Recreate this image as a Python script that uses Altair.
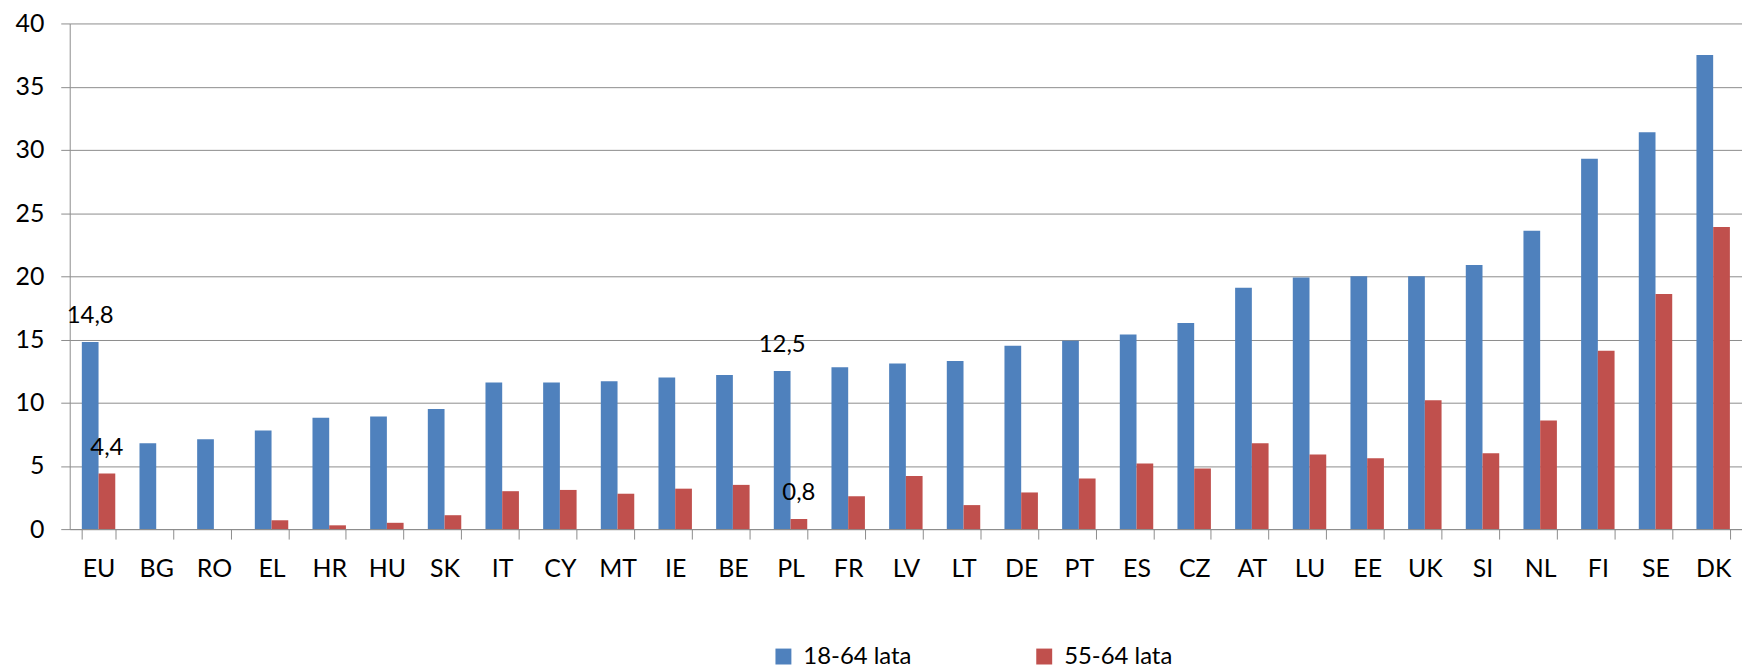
import altair as alt
import pandas as pd

countries = ["EU", "BG", "RO", "EL", "HR", "HU", "SK", "IT", "CY", "MT", "IE", "BE", "PL",
             "FR", "LV", "LT", "DE", "PT", "ES", "CZ", "AT", "LU", "EE", "UK", "SI", "NL",
             "FI", "SE", "DK"]
val_18_64 = [14.8, 6.8, 7.1, 7.8, 8.8, 8.9, 9.5, 11.6, 11.6, 11.7, 12.0, 12.2, 12.5,
             12.8, 13.1, 13.3, 14.5, 14.9, 15.4, 16.3, 19.1, 19.9, 20.0, 20.0, 20.9, 23.6,
             29.3, 31.4, 37.5]
val_55_64 = [4.4, 0.0, 0.0, 0.7, 0.3, 0.5, 1.1, 3.0, 3.1, 2.8, 3.2, 3.5, 0.8,
             2.6, 4.2, 1.9, 2.9, 4.0, 5.2, 4.8, 6.8, 5.9, 5.6, 10.2, 6.0, 8.6,
             14.1, 18.6, 23.9]
series = ["18-64 lata", "55-64 lata"]
colors = ["#4F81BD", "#C0504D"]
labeled = ["EU", "PL"]
y_ticks = [0, 5, 10, 15, 20, 25, 30, 35, 40]

rows = []
for c, a, b in zip(countries, val_18_64, val_55_64):
    rows.append({"country": c, "series": series[0], "value": a})
    rows.append({"country": c, "series": series[1], "value": b})
df = pd.DataFrame(rows)
df["label"] = df["value"].map(lambda v: f"{v:.1f}".replace(".", ","))
df_lab = df[df["country"].isin(labeled)].copy()

FONT = "Lato"

x_enc = alt.X("country:N", sort=countries,
              scale=alt.Scale(paddingInner=0.42, paddingOuter=0.21),
              axis=alt.Axis(title=None, labelAngle=0, tickBand="extent", grid=False,
                            tickSize=10, labelPadding=18, labelFontSize=25,
                            labelFont=FONT, labelColor="#000000",
                            domainColor="#8c8c8c", tickColor="#8c8c8c"))
y_enc = alt.Y("value:Q", scale=alt.Scale(domain=[0, 40], nice=False),
              axis=alt.Axis(title=None, values=y_ticks, grid=True, gridColor="#8c8c8c",
                            gridWidth=1, tickSize=9, labelPadding=17, labelFontSize=25,
                            labelFont=FONT, labelColor="#000000",
                            domainColor="#8c8c8c", tickColor="#8c8c8c"))
xo = alt.XOffset("series:N", sort=series, scale=alt.Scale(paddingInner=0, paddingOuter=0))

bars = alt.Chart(df).mark_bar().encode(
    x=x_enc,
    xOffset=xo,
    y=y_enc,
    color=alt.Color("series:N", sort=series,
                    scale=alt.Scale(domain=series, range=colors),
                    legend=alt.Legend(title=None, orient="none", legendX=705, legendY=624,
                                      direction="horizontal", symbolType="square",
                                      symbolSize=256, symbolStrokeWidth=0,
                                      labelFont=FONT, labelFontSize=24,
                                      labelColor="#000000", labelOffset=8,
                                      columnPadding=121, padding=0)),
)

labels = alt.Chart(df_lab).mark_text(font=FONT, fontSize=24, color="#000000",
                                      baseline="alphabetic", align="center", dy=-19).encode(
    x=alt.X("country:N", sort=countries),
    xOffset=xo,
    y=alt.Y("value:Q"),
    text="label:N",
)

chart = alt.layer(bars, labels).properties(
    width=1680, height=508,
    padding={"left": 62, "top": 14, "right": 0, "bottom": 139},
    autosize=alt.AutoSizeParams(type="none"),
).configure_view(stroke=None)

chart.save("out.html", embed_options={"renderer": "svg", "actions": False})
